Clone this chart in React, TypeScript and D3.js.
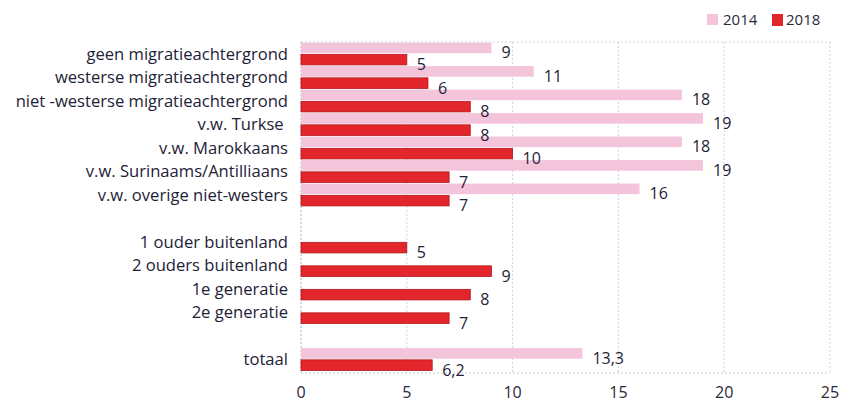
import React from "react";
import * as d3 from "d3";

const categories = [
  "geen migratieachtergrond",
  "westerse migratieachtergrond",
  "niet -westerse migratieachtergrond",
  "v.w. Turkse ",
  "v.w. Marokkaans",
  "v.w. Surinaams/Antilliaans",
  "v.w. overige niet-westers",
  "",
  "1 ouder buitenland",
  "2 ouders buitenland",
  "1e generatie",
  "2e generatie",
  " ",
  "totaal",
];
const values2014: (number | null)[] = [9, 11, 18, 19, 18, 19, 16, null, null, null, null, null, null, 13.3];
const values2018: (number | null)[] = [5, 6, 8, 8, 10, 7, 7, null, 5, 9, 8, 7, null, 6.2];
const valueLabels2014 = ["9", "11", "18", "19", "18", "19", "16", "", "", "", "", "", "", "13,3"];
const valueLabels2018 = ["5", "6", "8", "8", "10", "7", "7", "", "5", "9", "8", "7", "", "6,2"];
const series = ["2014", "2018"];
const xTicks = [0, 5, 10, 15, 20, 25];

const W = 844;
const H = 407;
const FONT = "'Open Sans', Lato, sans-serif";
const PINK = "#f3c4da";
const RED = "#e3262b";

export default function App() {
  const x = d3.scaleLinear().domain([0, 25]).range([301, 830]);
  const y = d3.scaleBand<number>().domain(d3.range(categories.length)).range([42, 371]).paddingInner(0);
  const sub = d3.scaleBand<string>().domain(series).range([0, y.bandwidth()]).paddingInner(0.1).paddingOuter(0.05);
  const colors: Record<string, string> = { "2014": PINK, "2018": RED };
  const data = [
    { s: "2014", vals: values2014, labels: valueLabels2014 },
    { s: "2018", vals: values2018, labels: valueLabels2018 },
  ];
  const [top, bottom] = y.range();
  return (
    <svg width={W} height={H} style={{ position: "absolute", left: 0, top: 0, background: "#fff" }}>
      <line x1={x(0)} x2={x(25)} y1={top} y2={top} stroke="#d4d8e0" strokeDasharray="2,2" />
      <line x1={x(0)} x2={x(25)} y1={bottom + 2} y2={bottom + 2} stroke="#c8ccd6" strokeDasharray="2,2" />
      {xTicks.map((t) => (
        <line
          key={"g" + t}
          x1={x(t)}
          x2={x(t)}
          y1={top}
          y2={bottom + 2}
          stroke={t === 0 ? "#9fb6dc" : "#c8d4ea"}
          strokeDasharray="2,2"
        />
      ))}
      {xTicks.map((t) => (
        <text key={"t" + t} x={x(t)} y={398} textAnchor="middle" fontFamily={FONT} fontSize={16} fill="#2a2a3a">
          {t}
        </text>
      ))}
      {categories.map((c, i) => (
        <text
          key={"c" + i}
          x={288}
          y={(y(i) as number) + y.bandwidth() / 2}
          dy="0.35em"
          textAnchor="end"
          fontFamily={FONT}
          fontSize={16.6}
          fill="#1e2236"
          style={{ whiteSpace: "pre" }}
        >
          {c}
        </text>
      ))}
      {data.map((d) =>
        d.vals.map((v, i) => {
          if (v === null) return null;
          const by = (y(i) as number) + (sub(d.s) as number);
          const bh = sub.bandwidth();
          return (
            <g key={d.s + i}>
              <rect
                x={x(0)}
                y={by}
                width={x(v) - x(0)}
                height={bh}
                fill={colors[d.s]}
                stroke={d.s === "2018" ? "#b5161c" : "none"}
                strokeWidth={0.8}
              />
              <text
                x={x(v) + 10}
                y={by + bh / 2 + 5}
                dy="0.35em"
                fontFamily={FONT}
                fontSize={16}
                fill="#1e2236"
              >
                {d.labels[i]}
              </text>
            </g>
          );
        })
      )}
      <rect x={707} y={14} width={11} height={11} fill={PINK} />
      <text x={723} y={20} dy="0.35em" fontFamily={FONT} fontSize={15} fill="#2a2a3a">2014</text>
      <rect x={772} y={14} width={11} height={12} fill={RED} />
      <text x={786} y={20} dy="0.35em" fontFamily={FONT} fontSize={15} fill="#2a2a3a">2018</text>
    </svg>
  );
}
